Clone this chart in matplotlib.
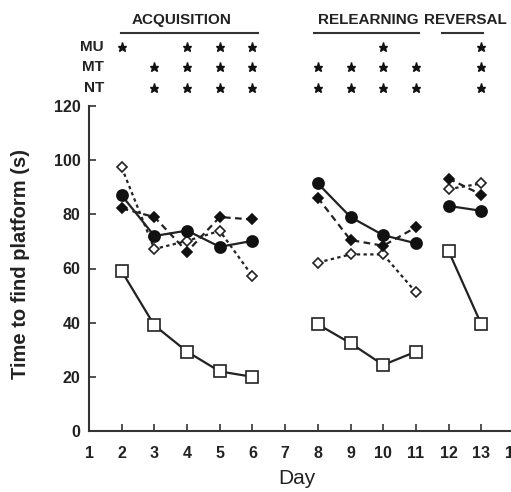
import numpy as np
import matplotlib
matplotlib.use('Agg')
import matplotlib.pyplot as plt
from matplotlib.transforms import blended_transform_factory

plt.rcParams['font.family'] = ['Liberation Sans', 'DejaVu Sans']

# days per phase
acq_days = [2, 3, 4, 5, 6]
rel_days = [8, 9, 10, 11]
rev_days = [12, 13]

# open squares (solid)
sq_acq = [59, 39, 29.3, 22, 20]
sq_rel = [39.4, 32.4, 24.4, 29.3]
sq_rev = [66.4, 39.4]

# filled circles (solid)
ci_acq = [87, 72, 74, 68, 70.2]
ci_rel = [91.4, 79, 72.3, 69.3]
ci_rev = [83.1, 81.3]

# filled diamonds (dashed)
fd_acq = [82.2, 79, 66.2, 79, 78.1]
fd_rel = [86.1, 70.5, 68.4, 75.2]
fd_rev = [93.2, 87.3]

# open diamonds (dotted)
od_acq = [97.3, 67.2, 70.2, 73.9, 57.2]
od_rel = [62.2, 65.2, 65.2, 51.2]
od_rev = [89.3, 91.4]

# significance stars
mu_days = [2, 4, 5, 6, 10, 13]
mt_days = [3, 4, 5, 6, 8, 9, 10, 11, 13]
nt_days = [3, 4, 5, 6, 8, 9, 10, 11, 13]

fig = plt.figure(figsize=(5.11, 4.92), dpi=100)
ax = fig.add_axes([89/511, 61/492, 425/511, 325/492])

groups = [(acq_days, 0), (rel_days, 1), (rev_days, 2)]
series = [
    ((sq_acq, sq_rel, sq_rev), dict(marker='s', mfc='white', mec='#222', ms=8, ls='-')),
    ((od_acq, od_rel, od_rev), dict(marker='D', mfc='white', mec='#222', ms=5.5, ls=(0, (1.5, 1.5)))),
    ((fd_acq, fd_rel, fd_rev), dict(marker='D', mfc='#111', mec='#111', ms=5.5, ls=(0, (3, 2)))),
    ((ci_acq, ci_rel, ci_rev), dict(marker='o', mfc='#111', mec='#111', ms=8, ls='-')),
]
for vals, style in series:
    for days, i in groups:
        ax.plot(days, vals[i], color='#222', lw=1.6, mew=1.2, clip_on=False, **style)

ax.set_xlim(1, 14)
ax.set_ylim(0, 120)
ax.set_xticks(range(1, 15))
ax.set_yticks(range(0, 121, 20))
ax.spines['top'].set_visible(False)
ax.spines['right'].set_visible(False)
for s in ['left', 'bottom']:
    ax.spines[s].set_linewidth(1.5)
    ax.spines[s].set_color('#333')
ax.tick_params(direction='in', length=5, width=1.2, color='#333', labelsize=11.5, pad=6)
ax.tick_params(axis='x', pad=11)
for lab in ax.get_xticklabels() + ax.get_yticklabels():
    lab.set_fontweight('bold')
    lab.set_color('#222')

ax.set_ylabel('Time to find platform (s)', fontsize=14.5, fontweight='bold', color='#222')
ax.yaxis.set_label_coords(-0.138, 0.514)
ax.set_xlabel('Day', fontsize=15, color='#222')
ax.xaxis.set_label_coords(0.49, -0.118)

# phase headers
tr = blended_transform_factory(ax.transData, fig.transFigure)
def fy(py):
    return 1 - py / 492

headers = [('ACQUISITION', 3.84, 1.97, 6.16), ('RELEARNING', 9.53, 7.88, 11.09), ('REVERSAL', 12.5, 11.79, 13.05)]
for text, xc, x0, x1 in headers:
    fig.text(xc, fy(20), text, transform=tr, ha='center', va='center',
             fontsize=11, fontweight='bold', color='#222')
    fig.add_artist(plt.Line2D([x0, x1], [fy(33), fy(33)], transform=tr, color='#333', lw=1.5))

rows = [('MU', mu_days, 47), ('MT', mt_days, 67), ('NT', nt_days, 88)]
for name, days, py in rows:
    fig.text(104/511, fy(py), name, ha='right', va='center', fontsize=11,
             fontweight='bold', color='#222')
    fig.add_artist(plt.Line2D(days, [fy(py)] * len(days), transform=tr, ls='none',
                              marker='*', ms=6.5, color='#111'))

fig.savefig('out.png', dpi=100)
